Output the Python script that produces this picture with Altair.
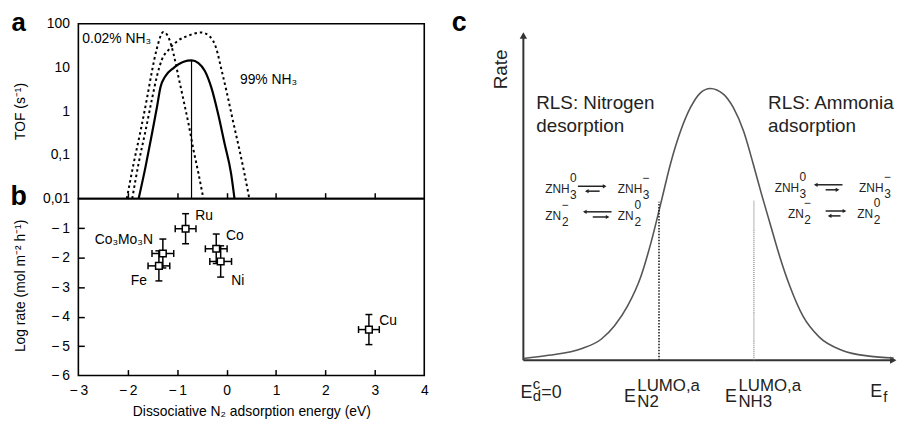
import altair as alt
import pandas as pd

FONT = "Liberation Sans"
W, H = 898, 415

# ---------------- Panel a : TOF vs dissociative N2 adsorption energy ----------------
E_SOLID = [-1.78, -1.64, -1.51, -1.41, -1.34, -1.24, -1.07, -0.87, -0.71, -0.57, -0.44, -0.31, -0.17, -0.04, 0.09, 0.16]
TOF_SOLID = [0.01, 0.054, 0.31, 1.23, 3.5, 6.3, 9.8, 13.5, 14.5, 12.6, 8.3, 3.5, 0.85, 0.18, 0.038, 0.01]
E_LOW = [-2.02, -1.88, -1.74, -1.61, -1.51, -1.41, -1.28, -1.17, -1.07, -0.97, -0.87, -0.77, -0.67, -0.57, -0.47]
TOF_LOW = [0.01, 0.065, 0.36, 2.0, 8.3, 27.5, 65, 47, 19.5, 5.8, 1.74, 0.51, 0.13, 0.038, 0.01]
E_HIGH = [-1.91, -1.78, -1.64, -1.51, -1.41, -1.31, -1.17, -1.01, -0.77, -0.51, -0.34, -0.21, -0.11, 0.0, 0.13, 0.26, 0.36, 0.46]
TOF_HIGH = [0.01, 0.065, 0.36, 1.9, 6.3, 15.1, 25.7, 38.9, 53.7, 63, 51, 27.5, 9.5, 2.8, 0.59, 0.13, 0.038, 0.01]
E_OPT = [-0.71]
TOF_OPT = [14.5]
E_AXIS = [-3, 4]
TOF_AXIS = [0.01, 100]
TOF_TICKS = [100, 10, 1, 0.1, 0.01]
E_TICKS = [-3, -2, -1, 0, 1, 2, 3, 4]
E_INNER_TICKS = [-2, -1, 0, 1, 2, 3]

# ---------------- Panel b : measured rates ----------------
CATALYSTS = ["Ru", "Co₃Mo₃N", "Fe", "Co", "Ni", "Cu"]
E_ADS = [-0.83, -1.29, -1.37, -0.21, -0.12, 2.88]
LOG_RATE = [-1.02, -1.86, -2.28, -1.70, -2.13, -4.44]
RATE_ERR = [0.51, 0.49, 0.51, 0.50, 0.53, 0.51]
E_ERR = [0.21, 0.22, 0.22, 0.22, 0.22, 0.21]
RATE_AXIS = [-6, 0]
RATE_TICKS = [-1, -2, -3, -4, -5, -6]
RATE_INNER_TICKS = [-1, -2, -3, -4, -5]

# ---------------- Panel c : schematic volcano ----------------
EF = [0.0, 0.67, 1.55, 2.09, 2.44, 2.79, 3.15, 3.41, 3.68, 3.94, 4.21, 4.47, 4.74, 5.0,
      5.36, 5.62, 5.89, 6.15, 6.37, 6.60, 6.86, 7.13, 7.48, 7.92, 8.54, 9.25, 9.91]
RATE = [0.006, 0.018, 0.042, 0.078, 0.127, 0.20, 0.31, 0.43, 0.578, 0.724, 0.844, 0.929, 0.984, 1.0,
        0.978, 0.929, 0.844, 0.723, 0.613, 0.504, 0.382, 0.273, 0.163, 0.085, 0.036, 0.015, 0.008]
E_LUMO = [3.63, 6.17]
RATE_LUMO = [0.583, 0.589]

# ---------------- scales (domain -> pixel range inside one canvas) ----------------
SA_X = alt.Scale(domain=E_AXIS, range=[71, 420], nice=False, zero=False)
SA_Y = alt.Scale(type="log", domain=TOF_AXIS, range=[190.5, 14], nice=False)
SB_Y = alt.Scale(domain=RATE_AXIS, range=[369, 190.5], nice=False, zero=False)
SC_X = alt.Scale(domain=[0, 10], range=[520, 897], nice=False, zero=False)
SC_Y = alt.Scale(domain=[0, 1], range=[353.5, 79.3], nice=False, zero=False)


def xy(xs, ys, xaxis=None, yaxis=None, xf="x", yf="y"):
    return {"x": alt.X(f"{xf}:Q", scale=xs, axis=xaxis),
            "y": alt.Y(f"{yf}:Q", scale=ys, axis=yaxis)}


def texts(items, xs, ys, size, align="left", baseline="alphabetic", weight="normal", color="black", angle=None):
    df = pd.DataFrame(items, columns=["t", "x", "y"])
    kw = dict(align=align, baseline=baseline, fontSize=size, fontWeight=weight, color=color, font=FONT)
    if angle is not None:
        kw["angle"] = angle
    return alt.Chart(df).mark_text(**kw).encode(text="t:N", **xy(xs, ys))


def tick_axis(orient, offset, values):
    return alt.Axis(orient=orient, offset=offset, values=values, labels=False, domain=False, ticks=True,
                    tickSize=6, tickWidth=1.5, tickColor="black", title=None, grid=False)


MINUS_EXPR = "datum.value < 0 ? '\u2212\u2009' + abs(datum.value) : '' + datum.value"

layers = []

# ---- panel a ----
frame_a = pd.DataFrame({"x": [E_AXIS[0]], "x2": [E_AXIS[1]], "y": [TOF_AXIS[0]], "y2": [TOF_AXIS[1]]})
layers.append(
    alt.Chart(frame_a).mark_rect(fillOpacity=0, stroke="black", strokeWidth=1.6).encode(
        x2="x2", y2="y2",
        **xy(SA_X, SA_Y,
             xaxis=tick_axis("top", -190.5, E_INNER_TICKS),
             yaxis=alt.Axis(orient="left", offset=-71, values=TOF_TICKS,
                            labelExpr="replace(format(datum.value, '~g'), '.', ',')",
                            ticks=False, domain=False, labelPadding=9, labelOverlap=False, grid=False,
                            title="TOF (s⁻¹)", titleX=-58, titleY=102, titleBaseline="middle"))
    )
)
layers.append(
    alt.Chart(pd.DataFrame({"x": E_LOW, "y": TOF_LOW})).mark_line(
        color="black", strokeWidth=2, strokeDash=[2.5, 3], interpolate="monotone").encode(**xy(SA_X, SA_Y))
)
layers.append(
    alt.Chart(pd.DataFrame({"x": E_HIGH, "y": TOF_HIGH})).mark_line(
        color="black", strokeWidth=2, strokeDash=[2.5, 3], interpolate="monotone").encode(**xy(SA_X, SA_Y))
)
layers.append(
    alt.Chart(pd.DataFrame({"x": E_SOLID, "y": TOF_SOLID})).mark_line(
        color="black", strokeWidth=2.2, interpolate="monotone").encode(**xy(SA_X, SA_Y))
)
layers.append(
    alt.Chart(pd.DataFrame({"x": E_OPT, "y": [TOF_AXIS[0]], "y2": TOF_OPT})).mark_rule(
        color="black", strokeWidth=1.2).encode(y2="y2", **xy(SA_X, SA_Y))
)
layers.append(texts([("0.02% NH₃", -2.92, 37.2), ("99% NH₃", 0.27, 4.18)], SA_X, SA_Y, 14))
layers.append(texts([("a", -4.21, 67.0)], SA_X, SA_Y, 26, align="center", weight="bold"))

# ---- panel b ----
frame_b = pd.DataFrame({"x": [E_AXIS[0]], "x2": [E_AXIS[1]], "y": [RATE_AXIS[0]], "y2": [RATE_AXIS[1]]})
layers.append(
    alt.Chart(frame_b).mark_rect(fillOpacity=0, stroke="black", strokeWidth=1.6).encode(
        x2="x2", y2="y2",
        **xy(SA_X, SB_Y,
             xaxis=alt.Axis(orient="bottom", offset=-46, values=E_TICKS, labelExpr=MINUS_EXPR,
                            ticks=False, domain=False, labelPadding=8, labelFlush=False, labelOverlap=False,
                            grid=False, title="Dissociative N₂ adsorption energy (eV)",
                            titleX=245.5, titleY=36, titleBaseline="middle"),
             yaxis=alt.Axis(orient="left", offset=-71, values=RATE_TICKS, labelExpr=MINUS_EXPR,
                            ticks=False, domain=False, labelPadding=9, labelOverlap=False, grid=False,
                            title="Log rate (mol m⁻² h⁻¹)", titleX=-58, titleY=278, titleBaseline="middle"))
    )
)
pts = pd.DataFrame({"name": CATALYSTS, "x": E_ADS, "y": LOG_RATE, "ey": RATE_ERR, "ex": E_ERR})
pts["ylo"] = pts["y"] - pts["ey"]
pts["yhi"] = pts["y"] + pts["ey"]
pts["xlo"] = pts["x"] - pts["ex"]
pts["xhi"] = pts["x"] + pts["ex"]

# vertical error bars (their x axis draws the inward ticks of the bottom edge)
layers.append(
    alt.Chart(pts).mark_rule(color="black", strokeWidth=1.5).encode(
        y2="yhi", **xy(SA_X, SB_Y, yf="ylo", xaxis=tick_axis("top", -369, E_INNER_TICKS)))
)
# horizontal error bars (their y axis draws the inward ticks of the left edge)
layers.append(
    alt.Chart(pts).mark_rule(color="black", strokeWidth=1.5).encode(
        x2="xhi", **xy(SA_X, SB_Y, xf="xlo", yaxis=tick_axis("right", 71 - W, RATE_INNER_TICKS)))
)
for f in ["ylo", "yhi"]:
    layers.append(alt.Chart(pts).mark_tick(orient="horizontal", size=7, thickness=1.5, color="black", opacity=1)
                  .encode(**xy(SA_X, SB_Y, yf=f)))
for f in ["xlo", "xhi"]:
    layers.append(alt.Chart(pts).mark_tick(orient="vertical", size=7, thickness=1.5, color="black", opacity=1)
                  .encode(**xy(SA_X, SB_Y, xf=f)))
layers.append(
    alt.Chart(pts).mark_point(shape="square", filled=True, fill="white", stroke="black", strokeWidth=1.5,
                              size=45, opacity=1).encode(**xy(SA_X, SB_Y))
)
layers.append(texts([("Co₃Mo₃N", -1.49, -1.53), ("Fe", -1.61, -2.94)], SA_X, SB_Y, 14, align="right"))
layers.append(texts([("Ru", -0.633, -0.723), ("Co", -0.01, -1.395), ("Ni", 0.095, -2.94), ("Cu", 3.09, -4.29)],
                    SA_X, SB_Y, 14))
layers.append(texts([("b", -4.21, -0.23)], SA_X, SB_Y, 27, align="center", weight="bold"))

# ---- panel c ----
AX_COLOR = "#333333"
layers.append(
    alt.Chart(pd.DataFrame({"x": [0], "y": [0], "y2": [1.19]})).mark_rule(color=AX_COLOR, strokeWidth=2)
    .encode(y2="y2", **xy(SC_X, SC_Y))
)
layers.append(
    alt.Chart(pd.DataFrame({"x": [0], "x2": [9.9], "y": [0]})).mark_rule(color=AX_COLOR, strokeWidth=2)
    .encode(x2="x2", **xy(SC_X, SC_Y))
)
layers.append(
    alt.Chart(pd.DataFrame({"x": [0], "y": [1.195]})).mark_point(shape="triangle-up", filled=True, size=55,
                                                                color=AX_COLOR, opacity=1)
    .encode(**xy(SC_X, SC_Y))
)
layers.append(
    alt.Chart(pd.DataFrame({"x": [9.9], "y": [0]})).mark_point(shape="triangle-right", filled=True, size=55,
                                                              color=AX_COLOR, opacity=1)
    .encode(**xy(SC_X, SC_Y))
)
layers.append(
    alt.Chart(pd.DataFrame({"x": EF, "y": RATE})).mark_line(color="#555555", strokeWidth=1.6, interpolate="monotone")
    .encode(**xy(SC_X, SC_Y))
)
layers.append(
    alt.Chart(pd.DataFrame({"x": [E_LUMO[0]], "y": [0], "y2": [RATE_LUMO[0]]})).mark_rule(
        color="#222222", strokeWidth=1.6, strokeDash=[1.5, 1.5]).encode(y2="y2", **xy(SC_X, SC_Y))
)
layers.append(
    alt.Chart(pd.DataFrame({"x": [E_LUMO[1]], "y": [0], "y2": [RATE_LUMO[1]]})).mark_rule(
        color="#8a8a8a", strokeWidth=1.3, strokeDash=[1, 1]).encode(y2="y2", **xy(SC_X, SC_Y))
)

# equilibrium arrows
ARROW_X1 = [1.459, 1.698, 1.645, 1.857, 7.825, 8.09, 8.09, 8.196]
ARROW_X2 = [2.175, 2.042, 2.361, 2.255, 8.541, 8.408, 8.594, 8.488]
ARROW_Y = [0.640, 0.622, 0.546, 0.527, 0.6455, 0.627, 0.549, 0.531]
ARROW_DIR = ["right", "left", "left", "right", "left", "right", "right", "left"]
arr = pd.DataFrame({"x": ARROW_X1, "x2": ARROW_X2, "y": ARROW_Y, "dir": ARROW_DIR})
arr["tip"] = [b if d == "right" else a for a, b, d in zip(ARROW_X1, ARROW_X2, ARROW_DIR)]
layers.append(alt.Chart(arr).mark_rule(color="#222222", strokeWidth=1.5).encode(x2="x2", **xy(SC_X, SC_Y)))
for d in ["right", "left"]:
    layers.append(
        alt.Chart(arr[arr["dir"] == d]).mark_point(shape=f"triangle-{d}", filled=True, size=18, color="#222222",
                                                   opacity=1)
        .encode(**xy(SC_X, SC_Y, xf="tip"))
    )

TXT = "#222222"
layers.append(texts([("RLS: Nitrogen", 0.345, 0.923), ("desorption", 0.345, 0.838),
                     ("RLS: Ammonia", 6.55, 0.923), ("adsorption", 6.55, 0.838)], SC_X, SC_Y, 19, color=TXT))
layers.append(texts([("Rate", -0.61, 1.07)], SC_X, SC_Y, 19, align="center", baseline="middle", color=TXT,
                    angle=270))
layers.append(texts([("c", -1.72, 1.21)], SC_X, SC_Y, 27, align="center", weight="bold"))

chem = [
    ("ZNH", 0.584, 0.6145), ("0", 1.247, 0.6546), ("3", 1.247, 0.5926),
    ("ZNH", 2.528, 0.6145), ("\u2212", 3.197, 0.6546), ("3", 3.197, 0.5926),
    ("ZN", 0.584, 0.516), ("\u2212", 1.034, 0.556), ("2", 1.034, 0.494),
    ("ZN", 2.528, 0.516), ("0", 2.971, 0.556), ("2", 2.971, 0.494),
    ("ZNH", 6.729, 0.619), ("0", 7.387, 0.659), ("3", 7.387, 0.597),
    ("ZNH", 8.984, 0.619), ("\u2212", 9.66, 0.659), ("3", 9.66, 0.597),
    ("ZN", 7.082, 0.522), ("\u2212", 7.520, 0.562), ("2", 7.520, 0.500),
    ("ZN", 8.939, 0.522), ("0", 9.377, 0.562), ("2", 9.377, 0.500),
]
layers.append(texts(chem, SC_X, SC_Y, 12, color=TXT))

layers.append(texts([("E", -0.08, -0.1404), ("=0", 0.48, -0.1404), ("E", 2.692, -0.155),
                     ("E", 5.398, -0.155), ("E", 9.284, -0.1368)], SC_X, SC_Y, 18, color=TXT))
layers.append(texts([("LUMO,a", 3.05, -0.1149), ("N2", 3.05, -0.1732),
                     ("LUMO,a", 5.756, -0.1149), ("NH3", 5.756, -0.1732)], SC_X, SC_Y, 17, color=TXT))
layers.append(texts([("c", 0.252, -0.1076), ("d", 0.252, -0.1513), ("f", 9.63, -0.155)], SC_X, SC_Y, 15,
                    color=TXT))

chart = (
    alt.layer(*layers)
    .resolve_scale(x="independent", y="independent")
    .properties(width=W, height=H, autosize=alt.AutoSizeParams(type="none"), padding=0)
    .configure_view(strokeWidth=0)
    .configure_axis(labelFont=FONT, titleFont=FONT, labelFontSize=14, titleFontSize=14, labelColor="black",
                    titleColor="black", titleFontWeight="normal", grid=False)
    .configure_text(font=FONT)
)

chart.save("out.html", embed_options={"renderer": "svg", "actions": False})
